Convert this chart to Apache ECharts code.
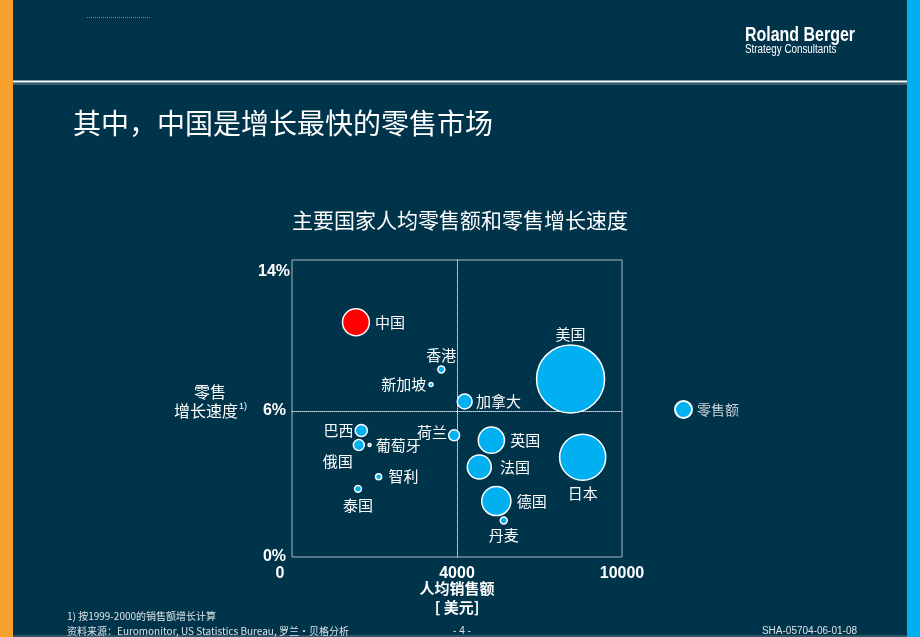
<!DOCTYPE html>
<html>
<head>
<meta charset="utf-8">
<script src="https://cdn.jsdelivr.net/npm/echarts@6/dist/echarts.min.js"></script>
<style>
  html, body { margin: 0; padding: 0; background: #00344a; }
  #chart { width: 920px; height: 637px; }
</style>
</head>
<body>
<div id="chart"></div>
<script>
// 人均零售额 (美元), 零售增长速度 (%), 零售额 (十亿美元, 气泡大小)
const countries = ['中国', '美国', '香港', '新加坡', '加拿大', '巴西', '荷兰', '英国', '俄国', '葡萄牙', '日本', '法国', '智利', '泰国', '德国', '丹麦'];
const salesPerCapita = [1550, 8130, 3620, 3370, 4280, 1680, 3930, 5250, 1620, 1880, 8570, 4810, 2100, 1600, 5430, 5700];
const growthRate = [10.7, 7.7, 8.2, 7.4, 6.5, 5.2, 5.0, 4.8, 4.6, 4.6, 4.1, 3.7, 3.3, 2.8, 2.3, 1.5];
const retailSales = [390, 2500, 26, 9, 120, 80, 65, 370, 65, 5, 1150, 310, 20, 26, 460, 26];

const xTicks = [0, 4000, 10000];
const yTicks = [0, 6, 14];

// label placement per country (style only)
const labelPos = {
  '中国': { position: 'right' },
  '美国': { position: 'top', distance: 2 },
  '香港': { position: 'top', distance: 2 },
  '新加坡': { position: 'left', distance: 2 },
  '加拿大': { position: 'right', distance: 3 },
  '巴西': { position: 'left', distance: 1 },
  '荷兰': { position: 'left', distance: 1, offset: [0, -3] },
  '英国': { position: 'right' },
  '俄国': { position: 'bottom', distance: 2, offset: [-21, 0] },
  '葡萄牙': { position: 'right', distance: 4 },
  '日本': { position: 'bottom' },
  '法国': { position: 'right', distance: 8 },
  '智利': { position: 'right', distance: 6 },
  '泰国': { position: 'bottom' },
  '德国': { position: 'right' },
  '丹麦': { position: 'bottom', distance: 3 }
};

const CJK = '"Noto Sans CJK SC", sans-serif';
const NUM = '"Liberation Sans", Arial, sans-serif';
const cyan = '#00b0f0';

// 四个象限：横轴在4000处断开，纵轴在6%处断开
const L = 292, M = 457, R = 622, T = 260, C = 411, B = 557;
const grids = [
  { left: L, top: T, width: M - L, height: C - T },   // 左上
  { left: M, top: T, width: R - M, height: C - T },   // 右上
  { left: L, top: C, width: M - L, height: B - C },   // 左下
  { left: M, top: C, width: R - M, height: B - C },   // 右下
  { left: L, top: T, width: R - L, height: B - T, show: true, borderColor: '#a9b7c0', borderWidth: 1, backgroundColor: 'transparent' }
];

const dotted = { show: true, lineStyle: { color: '#d4dce2', type: 'dotted', width: 1 } };
const noLine = { show: false };
const lblNum = { color: '#fff', fontFamily: NUM, fontWeight: 'bold', fontSize: 16 };

const xAxes = [
  { gridIndex: 0, type: 'value', min: xTicks[0], max: xTicks[1], interval: 4000, axisLine: dotted, axisTick: noLine, splitLine: noLine, axisLabel: { show: false } },
  { gridIndex: 1, type: 'value', min: xTicks[1], max: xTicks[2], interval: 2000, axisLine: dotted, axisTick: noLine, splitLine: noLine, axisLabel: { show: false } },
  { gridIndex: 2, type: 'value', min: xTicks[0], max: xTicks[1], interval: 4000, axisLine: noLine, axisTick: noLine, splitLine: noLine,
    axisLabel: Object.assign({ margin: 9, formatter: v => v === 0 ? '{z|0}' : String(v), rich: { z: Object.assign({ padding: [0, 24, 0, 0] }, lblNum) } }, lblNum) },
  { gridIndex: 3, type: 'value', min: xTicks[1], max: xTicks[2], interval: 2000, axisLine: noLine, axisTick: noLine, splitLine: noLine,
    axisLabel: Object.assign({ margin: 9, formatter: v => v === xTicks[2] ? String(v) : '' }, lblNum) },
  { gridIndex: 4, type: 'value', min: 0, max: 1, show: false }
];
const yAxes = [
  { gridIndex: 0, type: 'value', min: yTicks[1], max: yTicks[2], interval: 2, axisLine: noLine, axisTick: noLine, splitLine: noLine,
    axisLabel: Object.assign({ margin: 2, verticalAlign: 'top', padding: [4, 0, 0, 0], formatter: v => v === yTicks[2] ? v + '%' : '' }, lblNum) },
  { gridIndex: 1, type: 'value', min: yTicks[1], max: yTicks[2], interval: 2, axisLine: dotted, axisTick: noLine, splitLine: noLine, axisLabel: { show: false } },
  { gridIndex: 2, type: 'value', min: yTicks[0], max: yTicks[1], interval: 6, axisLine: noLine, axisTick: noLine, splitLine: noLine,
    axisLabel: Object.assign({ margin: 6, formatter: v => v + '%' }, lblNum) },
  { gridIndex: 3, type: 'value', min: yTicks[0], max: yTicks[1], interval: 6, axisLine: dotted, axisTick: noLine, splitLine: noLine, axisLabel: { show: false } },
  { gridIndex: 4, type: 'value', min: 0, max: 1, show: false }
];

function quadrant(i) {
  const right = salesPerCapita[i] >= xTicks[1];
  const top = growthRate[i] >= yTicks[1];
  return (top ? 0 : 2) + (right ? 1 : 0);
}

const series = [0, 1, 2, 3].map(q => ({
  name: '零售额',
  type: 'scatter',
  xAxisIndex: q,
  yAxisIndex: q,
  clip: false,
  symbolSize: v => 1.36 * Math.sqrt(v[2]),
  itemStyle: { color: cyan, borderColor: '#fff', borderWidth: 1.5, opacity: 1 },
  label: { show: true, formatter: '{b}', color: '#fff', fontFamily: CJK, fontSize: 15 },
  emphasis: { disabled: true },
  data: countries.map((n, i) => i).filter(i => quadrant(i) === q).map(i => ({
    name: countries[i],
    value: [salesPerCapita[i], growthRate[i], retailSales[i]],
    label: labelPos[countries[i]],
    itemStyle: countries[i] === '中国' ? { color: '#ff0000' } : undefined
  }))
}));

const chart = echarts.init(document.getElementById('chart'));
chart.setOption({
  backgroundColor: '#00344a',
  animation: false,
  title: {
    text: '主要国家人均零售额和零售增长速度',
    left: 'center',
    top: 205,
    textStyle: { color: '#fff', fontFamily: CJK, fontSize: 21, fontWeight: 'normal' }
  },
  legend: {
    data: [{ name: '零售额', icon: 'circle' }],
    left: 669,
    top: 395,
    itemWidth: 17,
    itemHeight: 17,
    selectedMode: false,
    textStyle: { color: '#c9d1d8', fontFamily: CJK, fontSize: 14 }
  },
  grid: grids,
  xAxis: xAxes,
  yAxis: yAxes,
  series: series,
  graphic: [
    { type: 'rect', shape: { x: 0, y: 0, width: 13, height: 637 }, style: { fill: '#f8a02e' } },
    { type: 'rect', shape: { x: 907, y: 0, width: 13, height: 637 }, style: { fill: '#00b0f0' } },
    { type: 'line', shape: { x1: 13, y1: 81.5, x2: 907, y2: 81.5 }, style: { stroke: '#fff', lineWidth: 2 } },
    { type: 'line', shape: { x1: 13, y1: 84, x2: 907, y2: 84 }, style: { stroke: '#6f8a99', lineWidth: 1 } },
    { type: 'line', shape: { x1: 13, y1: 636, x2: 907, y2: 636 }, style: { stroke: '#5f7a89', lineWidth: 1 } },
    { type: 'line', shape: { x1: 87, y1: 17.5, x2: 150, y2: 17.5 }, style: { stroke: '#6f8a99', lineWidth: 1, lineDash: [1, 1] } },
    { type: 'text', x: 745, y: 25, scaleX: 0.76, style: { text: 'Roland Berger', fill: '#fff', font: 'bold 21px "Liberation Sans", sans-serif' } },
    { type: 'text', x: 745, y: 44, scaleX: 0.82, style: { text: 'Strategy Consultants', fill: '#fff', font: '12px "Liberation Sans", sans-serif' } },
    { type: 'text', x: 73, y: 109, style: { text: '其中，中国是增长最快的零售市场', fill: '#fff', font: '28px ' + CJK } },
    { type: 'text', x: 210, y: 392, style: { text: '零售', fill: '#fff', font: '16px ' + CJK, align: 'center', verticalAlign: 'middle' } },
    { type: 'text', x: 247, y: 411, style: {
      text: '{a|增长速度}{s|1)}', align: 'right', verticalAlign: 'middle',
      rich: { a: { fill: '#fff', font: '16px ' + CJK }, s: { fill: '#fff', font: '9px ' + NUM, padding: [0, 0, 8, 1] } }
    } },
    { type: 'text', x: 457, y: 588, style: { text: '人均销售额', fill: '#fff', font: 'bold 15px ' + CJK, align: 'center', verticalAlign: 'middle' } },
    { type: 'text', x: 457, y: 607, style: { text: '[ 美元]', fill: '#fff', font: 'bold 15px ' + CJK, align: 'center', verticalAlign: 'middle' } },
    { type: 'text', x: 67, y: 616, style: { text: '1) 按1999-2000的销售额增长计算', fill: '#dde3e8', font: '10px ' + CJK, verticalAlign: 'middle' } },
    { type: 'text', x: 67, y: 631, style: { text: '资料来源：Euromonitor, US Statistics Bureau, 罗兰•贝格分析', fill: '#dde3e8', font: '10px ' + CJK, verticalAlign: 'middle' } },
    { type: 'text', x: 462, y: 631, style: { text: '- 4 -', fill: '#dde3e8', font: '10px ' + NUM, align: 'center', verticalAlign: 'middle' } },
    { type: 'text', x: 857, y: 631, style: { text: 'SHA-05704-06-01-08', fill: '#dde3e8', font: '10px ' + NUM, align: 'right', verticalAlign: 'middle' } }
  ]
});
</script>
</body>
</html>
